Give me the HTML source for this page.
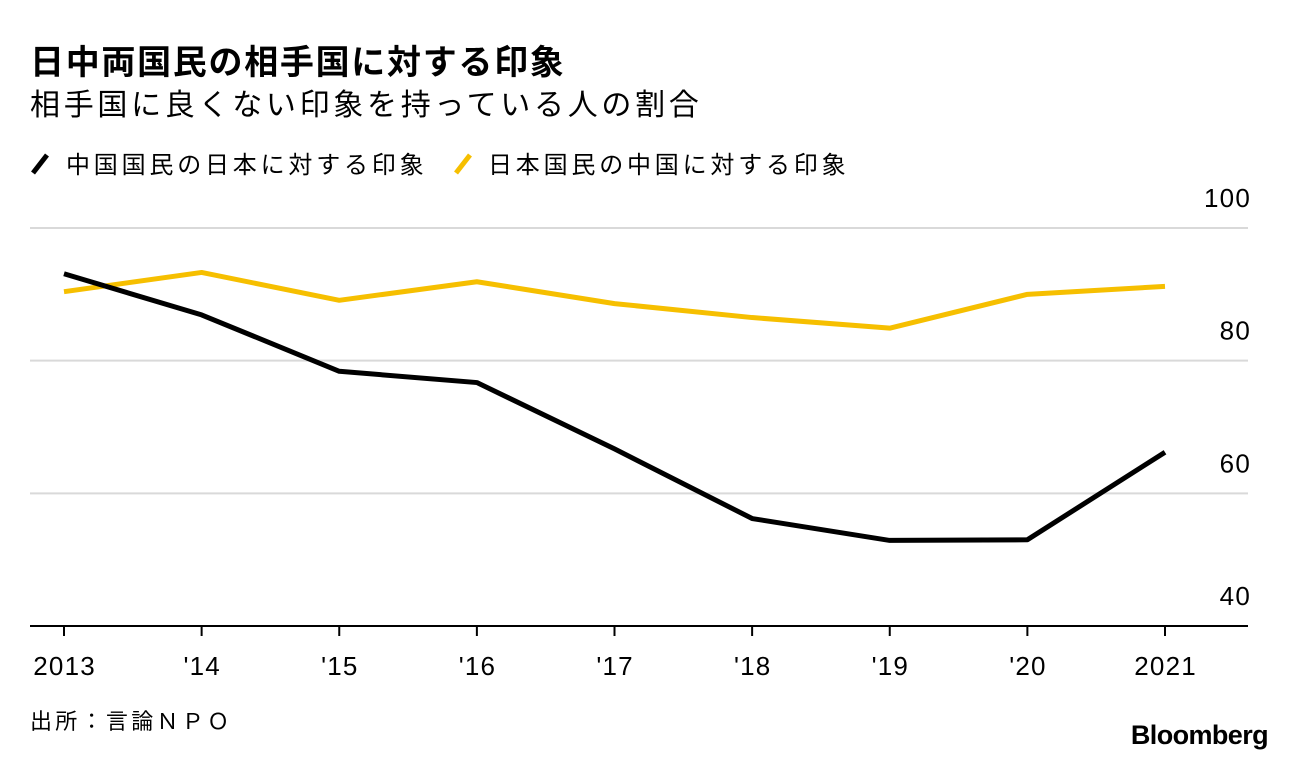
<!DOCTYPE html>
<html><head><meta charset="utf-8">
<style>
html,body{margin:0;padding:0;background:#fff;}
body{width:1296px;height:760px;overflow:hidden;font-family:"Liberation Sans","Noto Sans CJK JP",sans-serif;color:#000;}
svg text{font-family:"Liberation Sans","Noto Sans CJK JP",sans-serif;}
</style></head>
<body>
<svg id="chart" width="1296" height="760" xmlns="http://www.w3.org/2000/svg">
<text x="30" y="74" font-size="34" font-weight="bold" letter-spacing="1.7">日中両国民の相手国に対する印象</text>
<text x="30" y="115" font-size="30" letter-spacing="3.7">相手国に良くない印象を持っている人の割合</text>
<g>
<line x1="33" y1="173" x2="47" y2="155" stroke="#000" stroke-width="5"/>
<text x="66" y="173" font-size="24" letter-spacing="3.8">中国国民の日本に対する印象</text>
<line x1="456" y1="173" x2="470" y2="155" stroke="#f6bf00" stroke-width="5"/>
<text x="488" y="173" font-size="24" letter-spacing="3.8">日本国民の中国に対する印象</text>
</g>
<g id="grid"></g>
<g id="xaxis"></g>
<g id="series"></g>
<text x="30" y="729" font-size="22" letter-spacing="3.3">出所：言論ＮＰＯ</text>
<text x="1268" y="744" font-size="27" font-weight="bold" text-anchor="end" letter-spacing="-0.6">Bloomberg</text>
</svg>
<script>
const categories = ["2013","'14","'15","'16","'17","'18","'19","'20","2021"];
const chinaOnJapan = [93.1,86.9,78.4,76.7,66.7,56.2,52.9,53.0,66.2];
const japanOnChina = [90.4,93.3,89.1,91.9,88.6,86.5,84.9,90.0,91.2];
const yTicks = [100,80,60,40];

const NS="http://www.w3.org/2000/svg";
const x0=64,x1=1165,yBase=626,yTop=228,yMin=40,yMax=100;
const xs=i=>x0+(x1-x0)*i/(categories.length-1);
const ys=v=>yBase-(v-yMin)/(yMax-yMin)*(yBase-yTop);
function mk(tag,attrs,parent){const e=document.createElementNS(NS,tag);for(const k in attrs)e.setAttribute(k,attrs[k]);parent.appendChild(e);return e;}

const grid=document.getElementById('grid');
yTicks.forEach(t=>{
  const y=ys(t);
  if(t!==yMin){
    const l=mk('line',{x1:30,x2:1248,y1:y,y2:y,stroke:'#d9d9d9','stroke-width':2},grid);
    
    
  }
  const tx=mk('text',{x:1251,y:y-21,'font-size':26,'text-anchor':'end','letter-spacing':1.2},grid);
  tx.textContent=t;
  
  
});
const xa=document.getElementById('xaxis');
const base=mk('line',{x1:30,x2:1248,y1:yBase,y2:yBase,stroke:'#000','stroke-width':2},xa);


categories.forEach((c,i)=>{
  const tk=mk('line',{x1:xs(i),x2:xs(i),y1:yBase,y2:yBase+10,stroke:'#000','stroke-width':2},xa);
  
  
  const tx=mk('text',{x:xs(i)+0.6,y:675,'font-size':26,'text-anchor':'middle','letter-spacing':1.2},xa);
  tx.textContent=c;
  
  
});
const sg=document.getElementById('series');
function line(vals,color,name){
  const p=mk('polyline',{points:vals.map((v,i)=>xs(i)+','+ys(v)).join(' '),fill:'none',stroke:color,'stroke-width':5,'stroke-linejoin':'round'},sg);
  
  
}
line(japanOnChina,'#f6bf00','line-japan-on-china');
line(chinaOnJapan,'#000','line-china-on-japan');
</script>
</body></html>
